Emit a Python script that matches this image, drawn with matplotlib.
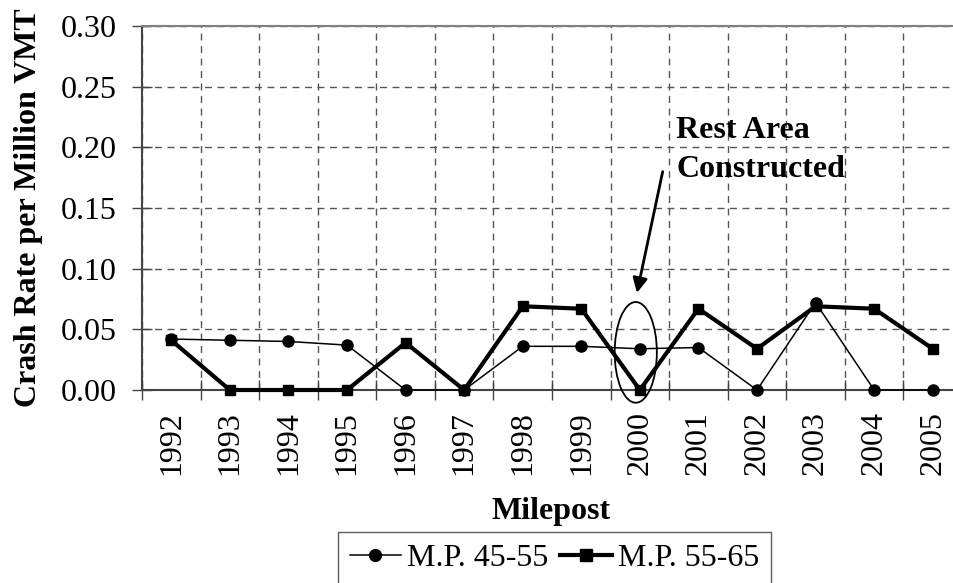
import matplotlib
matplotlib.use("Agg")
import matplotlib.pyplot as plt
from matplotlib.patches import Ellipse
from matplotlib.ticker import FixedLocator, NullFormatter

plt.rcParams['font.family'] = ['Liberation Serif', 'DejaVu Serif']

years = ['1992', '1993', '1994', '1995', '1996', '1997', '1998',
         '1999', '2000', '2001', '2002', '2003', '2004', '2005']
mp_45_55 = [0.042, 0.041, 0.040, 0.037, 0.000, 0.000, 0.036,
            0.036, 0.034, 0.035, 0.000, 0.072, 0.000, 0.000]
mp_55_65 = [0.041, 0.000, 0.000, 0.000, 0.039, 0.000, 0.069,
            0.067, 0.000, 0.067, 0.034, 0.069, 0.067, 0.034]
y_ticks = [0.00, 0.05, 0.10, 0.15, 0.20, 0.25, 0.30]

FS = 23
fig = plt.figure(figsize=(9.54, 5.83), dpi=100)
ax = fig.add_axes([142 / 954, 193 / 583, 820 / 954, 364 / 583])

x = list(range(len(years)))
l1, = ax.plot(x, mp_45_55, color='black', lw=1.1, marker='o', ms=8,
              label='M.P. 45-55', zorder=4, clip_on=False)
l2, = ax.plot(x, mp_55_65, color='black', lw=3.0, marker='s', ms=7.3,
              label='M.P. 55-65', zorder=5, clip_on=False)

ax.set_xlim(-0.5, len(years) - 0.5)
ax.set_ylim(0, 0.30)

# category labels at centres, tick marks / vertical grid at boundaries
ax.set_xticks(x)
ax.set_xticklabels(years, rotation=90, fontsize=FS)
ax.tick_params(axis='x', which='major', length=0, pad=15)
ax.xaxis.set_minor_locator(FixedLocator([i + 0.5 for i in range(-1, len(years))]))
ax.xaxis.set_minor_formatter(NullFormatter())
ax.tick_params(axis='x', which='minor', direction='inout', length=14,
               width=1, color='#444444')

ax.set_yticks(y_ticks)
ax.set_yticklabels([f'{v:.2f}' for v in y_ticks], fontsize=FS)
ax.tick_params(axis='y', direction='inout', length=14, width=1,
               color='#444444', pad=11)

ax.grid(True, axis='x', which='minor', linestyle=(0, (5, 4)),
        color='#555555', lw=1)
ax.grid(True, axis='y', which='major', linestyle=(0, (5, 4)),
        color='#555555', lw=1)
ax.grid(False, axis='x', which='major')
ax.set_axisbelow(True)

ax.spines['right'].set_visible(False)
ax.spines['top'].set_color('#808080')
ax.spines['top'].set_linewidth(1.5)
ax.spines['left'].set_color('#444444')
ax.spines['left'].set_linewidth(1.5)
ax.spines['bottom'].set_color('#444444')
ax.spines['bottom'].set_linewidth(1.5)

ax.set_ylabel('Crash Rate per Million VMT', fontsize=FS, fontweight='bold')
ax.yaxis.set_label_coords(-0.121, 0.5)

fig.text(551 / 954, 1 - 511 / 583, 'Milepost', fontsize=FS,
         fontweight='bold', ha='center', va='center')

# annotation: ellipse around 2000 and arrow with text
ax.add_patch(Ellipse((7.93, 0.031), width=0.72, height=0.083, fill=False,
                     edgecolor='black', lw=1.3, zorder=6, clip_on=False))
ax.annotate('', xy=(7.95, 0.080), xytext=(8.39, 0.180),
            arrowprops=dict(arrowstyle='-|>', color='black', lw=2,
                            mutation_scale=22, shrinkA=0, shrinkB=0))
ax.text(8.62, 0.226, 'Rest Area\nConstructed', fontsize=FS,
        fontweight='bold', ha='left', va='top', linespacing=1.45)

leg = fig.legend(handles=[l1, l2], loc='upper center', ncol=2,
                 bbox_to_anchor=(554.5 / 954, 1 - 532 / 583), fontsize=FS,
                 frameon=True, fancybox=False, edgecolor='#333333',
                 handlelength=1.6, handletextpad=0.2, columnspacing=0.37,
                 borderpad=0.37, borderaxespad=0)
leg.get_frame().set_linewidth(1)
for h in leg.legend_handles:
    h.set_markersize(8.5)

fig.savefig('out.png', dpi=100)
